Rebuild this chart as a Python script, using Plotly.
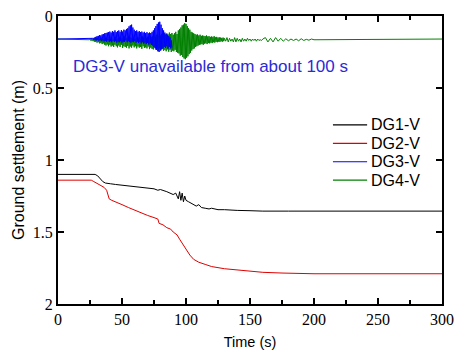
import numpy as np
import plotly.graph_objects as go

# DG1-V (black)
dg1_t = [0, 29, 31, 33, 35, 37, 39, 41, 45, 50, 55, 60, 65, 70, 75, 78, 80, 85, 88, 90, 92, 94, 95,
         96, 97, 98, 99, 100, 102, 104, 106, 108, 110, 112, 115, 118, 120, 125, 130, 135, 140, 150,
         160, 180, 200, 250, 300]
dg1_v = [1.10, 1.10, 1.11, 1.13, 1.15, 1.16, 1.16, 1.165, 1.17, 1.175, 1.18, 1.185, 1.19, 1.195, 1.20,
         1.21, 1.205, 1.22, 1.23, 1.24, 1.23, 1.27, 1.22, 1.28, 1.23, 1.29, 1.25, 1.28, 1.29, 1.30, 1.31,
         1.32, 1.31, 1.33, 1.335, 1.34, 1.335, 1.345, 1.345, 1.35, 1.35, 1.352, 1.355, 1.355, 1.355,
         1.355, 1.355]

# DG2-V (red)
dg2_t = [0, 26, 28, 30, 33, 36, 38, 39, 40, 42, 45, 50, 55, 60, 65, 70, 75, 78, 79, 82, 85, 88, 90,
         93, 95, 97, 99, 101, 103, 106, 110, 115, 120, 130, 140, 150, 160, 175, 200, 250, 300]
dg2_v = [1.14, 1.14, 1.15, 1.16, 1.18, 1.19, 1.21, 1.25, 1.27, 1.28, 1.29, 1.31, 1.33, 1.35, 1.37,
         1.385, 1.40, 1.41, 1.44, 1.45, 1.47, 1.48, 1.50, 1.52, 1.55, 1.58, 1.60, 1.63, 1.66, 1.69,
         1.71, 1.725, 1.74, 1.755, 1.765, 1.775, 1.78, 1.785, 1.79, 1.79, 1.79]

# DG3-V (blue), sampled every 0.5 s from 27 s; unavailable after ~90 s
dg3_t = [0.0] + list(np.arange(27.0, 89.01, 0.5))
dg3_v = [0.16,
         0.16, 0.155, 0.165, 0.15, 0.168, 0.145, 0.17, 0.14, 0.165, 0.138, 0.172, 0.132, 0.168, 0.135, 0.175, 0.128, 0.17, 0.125, 0.176, 0.12,
         0.172, 0.118, 0.178, 0.115, 0.17, 0.112, 0.18, 0.108, 0.175, 0.115, 0.182, 0.105, 0.172, 0.11, 0.18, 0.10, 0.175, 0.112, 0.185, 0.105,
         0.178, 0.10, 0.182, 0.11, 0.175, 0.098, 0.185, 0.108, 0.178, 0.095, 0.18, 0.10, 0.17, 0.09, 0.182, 0.085, 0.175, 0.072, 0.18, 0.065,
         0.185, 0.06, 0.178, 0.08, 0.182, 0.095, 0.175, 0.105, 0.185, 0.10, 0.178, 0.11, 0.188, 0.105, 0.18, 0.112, 0.19, 0.108, 0.182, 0.115,
         0.192, 0.11, 0.185, 0.118, 0.195, 0.112, 0.188, 0.12, 0.198, 0.115, 0.19, 0.118, 0.20, 0.11, 0.205, 0.10, 0.215, 0.085, 0.225, 0.07,
         0.235, 0.055, 0.245, 0.045, 0.25, 0.04, 0.24, 0.06, 0.23, 0.085, 0.225, 0.10, 0.215, 0.115, 0.222, 0.125, 0.21, 0.13, 0.225, 0.14,
         0.215, 0.15, 0.225, 0.17, 0.22]

# DG4-V (green): 0.5 s samples 24-130 s, 1 s samples 131-160 s, 2 s samples 162-200 s
dg4_t = [0.0] + list(np.arange(24.0, 130.01, 0.5)) + list(range(131, 161)) + list(range(162, 201, 2)) + [300]
dg4_v = [0.16,
         0.16, 0.165, 0.158, 0.17, 0.155, 0.172, 0.16, 0.175, 0.152, 0.178, 0.158, 0.18, 0.15, 0.185, 0.16, 0.182, 0.155, 0.19, 0.158, 0.188,
         0.152, 0.195, 0.16, 0.19, 0.148, 0.20, 0.162, 0.205, 0.15, 0.198, 0.158, 0.21, 0.145, 0.20, 0.16, 0.212, 0.15, 0.205, 0.165, 0.215,
         0.155, 0.20, 0.148, 0.21, 0.16, 0.218, 0.152, 0.205, 0.145, 0.215, 0.158, 0.20, 0.15, 0.222, 0.16, 0.21, 0.142, 0.215, 0.155, 0.22,
         0.15, 0.208, 0.14, 0.225, 0.158, 0.212, 0.148, 0.22, 0.155, 0.205, 0.145, 0.218, 0.16, 0.21, 0.15, 0.225, 0.145, 0.212, 0.158, 0.22,
         0.148, 0.215, 0.155, 0.228, 0.142, 0.21, 0.152, 0.222, 0.14, 0.218, 0.155, 0.225, 0.145, 0.212, 0.15, 0.23, 0.138, 0.22, 0.148, 0.228,
         0.14, 0.232, 0.135, 0.22, 0.145, 0.235, 0.13, 0.228, 0.14, 0.24, 0.128, 0.225, 0.135, 0.238, 0.125, 0.23, 0.138, 0.242, 0.122, 0.235,
         0.13, 0.245, 0.12, 0.232, 0.128, 0.248, 0.115, 0.235, 0.125, 0.25, 0.118, 0.24, 0.13, 0.245, 0.12, 0.235, 0.11, 0.25, 0.125, 0.255,
         0.10, 0.26, 0.09, 0.275, 0.08, 0.27, 0.065, 0.285, 0.06, 0.295, 0.05, 0.30, 0.055, 0.29, 0.07, 0.28, 0.085, 0.265, 0.095, 0.255,
         0.11, 0.24, 0.115, 0.23, 0.12, 0.225, 0.125, 0.215, 0.13, 0.21, 0.128, 0.205, 0.135, 0.20, 0.13, 0.198, 0.138, 0.195, 0.135, 0.20,
         0.138, 0.192, 0.14, 0.19, 0.135, 0.195, 0.142, 0.188, 0.14, 0.19, 0.145, 0.185, 0.142, 0.188, 0.145, 0.182, 0.14, 0.185, 0.148, 0.18,
         0.145, 0.182, 0.15, 0.178, 0.148, 0.18, 0.15, 0.176, 0.152, 0.178, 0.15, 0.175, 0.155,
         0.175, 0.15, 0.18, 0.155, 0.175, 0.16, 0.18, 0.15, 0.18, 0.155, 0.175, 0.16, 0.18, 0.155, 0.175,
         0.16, 0.175, 0.155, 0.17, 0.16, 0.175, 0.16, 0.17, 0.16, 0.175, 0.16, 0.17, 0.165, 0.17, 0.16,
         0.15, 0.18, 0.155, 0.18, 0.15, 0.175, 0.155, 0.175, 0.158, 0.172, 0.16, 0.17, 0.16, 0.172,
         0.158, 0.17, 0.162, 0.168, 0.16, 0.165,
         0.16]

series_names = ["DG1-V", "DG2-V", "DG3-V", "DG4-V"]
series_colors = ["black", "#e00000", "#0000ff", "#008000"]
x_ticks = [0, 50, 100, 150, 200, 250, 300]
y_ticks = [0, 0.5, 1, 1.5, 2]

fig = go.Figure()
data = {"DG1-V": (dg1_t, dg1_v), "DG2-V": (dg2_t, dg2_v),
        "DG3-V": (dg3_t, dg3_v), "DG4-V": (dg4_t, dg4_v)}
draw_order = ["DG1-V", "DG2-V", "DG4-V", "DG3-V"]
for name in draw_order:
    t, v = data[name]
    c = series_colors[series_names.index(name)]
    fig.add_trace(go.Scatter(x=t, y=v, mode="lines", name=name, showlegend=False,
                             line=dict(color=c, width=1)))

# Legend drawn in the figure's paper space (compact spacing like the original)
leg_y0, leg_dy = 0.622, 0.064
for i, (name, c) in enumerate(zip(series_names, series_colors)):
    yy = leg_y0 - i * leg_dy
    fig.add_shape(type="line", xref="paper", yref="paper", x0=0.716, x1=0.805, y0=yy, y1=yy,
                  line=dict(color=c, width=1.2))
    fig.add_annotation(x=0.81, y=yy, xref="paper", yref="paper", xanchor="left", yanchor="middle",
                       text=name, showarrow=False,
                       font=dict(family="Liberation Sans", size=16, color="black"))

fig.add_annotation(x=0.035, y=0.823, xref="paper", yref="paper", xanchor="left", yanchor="middle",
                   text="DG3-V unavailable from about 100 s", showarrow=False,
                   font=dict(family="Liberation Sans", size=17, color="#2b2bd6"))

axis_common = dict(showline=True, linecolor="black", linewidth=2, mirror="ticks",
                   ticks="inside", ticklen=6, tickwidth=2, tickcolor="black",
                   showgrid=False, zeroline=False, automargin=False,
                   tickfont=dict(family="Liberation Serif", size=16, color="black"))

fig.update_xaxes(range=[0, 300], tickvals=x_ticks, title_text="Time (s)", title_standoff=10,
                 title_font=dict(family="Liberation Sans", size=14.5, color="black"),
                 minor=dict(dtick=25, ticks="inside", ticklen=4, tickwidth=1.5, tickcolor="black"),
                 **axis_common)
fig.update_yaxes(range=[2, 0], tickvals=y_ticks, title_text="Ground settlement (m)",
                 title_standoff=4,
                 title_font=dict(family="Liberation Sans", size=16, color="black"),
                 **axis_common)

fig.update_layout(
    width=457, height=355,
    margin=dict(l=58, r=15, t=16, b=51),
    paper_bgcolor="white", plot_bgcolor="white",
    showlegend=False,
)

fig.write_html("out.html")
